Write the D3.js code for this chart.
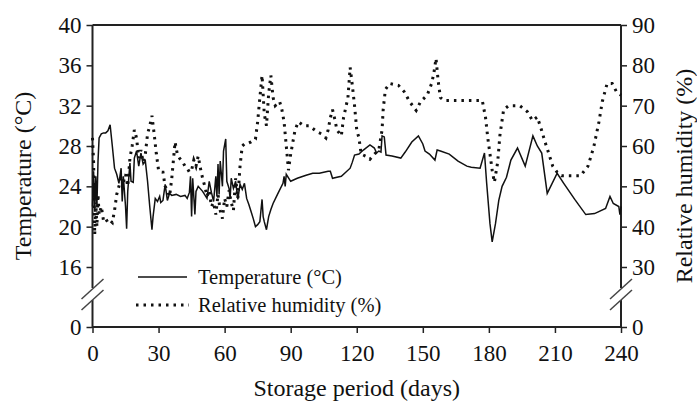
<!DOCTYPE html>
<html>
<head>
<meta charset="utf-8">
<script src="https://cdn.jsdelivr.net/npm/d3@7"></script>
<style>
  body { margin: 0; background: #fff; }
  svg text { font-family: "Liberation Serif", "Times New Roman", serif; fill: #111; }
</style>
</head>
<body>
<svg id="canvas" width="697" height="406"></svg>
<script>
// storage day and temperature (°C)
let tempDays = [0, 0.5, 1, 1.5, 2, 2.5, 3, 4, 5, 6, 7, 8, 9, 10, 11, 12, 13, 13.5, 14, 15, 15.5, 16, 17, 17.5, 18.5, 19, 20, 21, 22, 23, 24, 25, 26, 27, 27.5, 28.5, 29.5, 30.5, 31, 32, 33, 34, 35, 36, 38, 40, 42, 43, 44, 44.5, 45, 45.5, 46.5, 47, 48, 50, 52, 53, 54, 55, 56, 56.5, 57, 57.5, 58, 59, 59.5, 60.5, 61, 62, 62.5, 63, 64, 65, 66, 67, 68, 69, 70, 71, 72, 73, 74, 75, 76, 77, 77.5, 78, 79, 80, 81, 82, 84, 86.5, 87, 87.5, 88, 90, 93, 97, 100, 103, 105, 107, 108, 109, 111, 113, 115, 117, 118, 119, 121, 123, 126, 128, 129, 130, 131, 131.5, 132.5, 133.3, 136, 140, 142, 145, 148, 150, 151, 153, 155.5, 156.5, 158, 162, 166, 170, 172, 176, 178, 179, 180.5, 181.5, 183, 184.5, 186, 188, 190, 193, 196.5, 200, 202, 204, 206.5, 211, 214, 219, 224, 228, 233, 235, 236.5, 239, 239.5, 240]
let tempValues = [22, 25.5, 21.5, 25, 22, 26.5, 28.8, 29.2, 29.3, 29.3, 29.5, 30.1, 28, 25.8, 25.2, 24.3, 25.8, 22.5, 25, 22, 19.8, 23.5, 26.3, 24.5, 24.4, 26.8, 27.5, 26, 27.3, 26.2, 26.5, 24.5, 22, 19.7, 21, 22.8, 22.5, 23, 22.4, 22.6, 24.2, 22.6, 23.3, 23.1, 23.2, 23, 23.1, 22.8, 23.4, 25, 21, 24.8, 21.2, 23.5, 24, 23.5, 22.8, 24.5, 23.4, 22.5, 25, 23, 26.2, 23.2, 26.5, 24, 27.5, 28.7, 24.5, 23.8, 22.8, 24.8, 23.8, 24.5, 22.7, 24.2, 23.7, 24.3, 22.8, 22.2, 21.5, 20.8, 20, 20.2, 20.5, 22.7, 21, 20.5, 19.7, 21, 21.7, 22.3, 23.2, 24.3, 25, 24, 25.2, 24.5, 24.8, 25.1, 25.3, 25.3, 25.4, 25.5, 25.5, 24.8, 24.9, 25, 25.4, 25.8, 26.4, 27.1, 27.2, 27.6, 28.1, 27.8, 27.3, 27.5, 27.4, 29, 28.9, 27.1, 27, 26.8, 27.4, 28.4, 29, 28.2, 27.5, 27.2, 26.6, 27.6, 27.5, 27.2, 26.5, 26, 25.9, 25.8, 27.3, 24.3, 20.3, 18.5, 20.3, 22.6, 24, 24.9, 26.6, 27.8, 26, 29, 28, 27.3, 23.3, 25.3, 24.3, 22.7, 21.2, 21.3, 21.8, 23, 22.3, 22, 21.2, 22]

// storage day and relative humidity (%)
let rhDays = [0, 0.5, 1, 1.5, 2, 2.5, 3, 4, 5, 6, 7, 8, 9, 10, 11, 12, 13, 14, 15, 16, 17, 18, 19, 20, 21, 22, 23, 24, 25, 26, 27, 28, 29, 30, 31, 32, 33, 34, 35, 36, 37, 37.5, 38.5, 39.5, 41, 42, 43, 44, 45, 46, 47, 48, 49, 50, 51, 52, 53, 54, 55, 56, 57, 58, 59, 60, 61, 62, 63, 64, 65, 66, 67, 68, 69, 70, 72, 74, 75, 76, 77, 78, 79, 80, 81, 82, 83, 85, 86, 87, 88, 89, 90, 92, 93.5, 96, 98.5, 102, 104, 106, 107, 108, 109, 110, 111, 113, 114, 116, 117, 118, 119, 120, 121, 122, 124, 126, 128, 130, 131.5, 132, 133, 135, 139, 141.5, 144, 147, 149, 152, 154, 155, 156, 157, 158, 159.5, 163, 168, 173, 177, 178.5, 179.5, 180.5, 181.5, 182.5, 184, 185, 186.7, 189, 192, 194, 197.5, 199.8, 202, 204, 205.5, 207, 209, 211, 213, 217, 221.6, 225, 227.6, 230, 231.5, 233.7, 236, 238, 240]
let rhValues = [62, 56, 38, 46, 40, 48, 43, 45, 41.5, 42, 41, 41.5, 41, 44, 48, 50, 52, 51, 53, 50, 57, 60, 64, 62, 57, 59, 56, 58, 63, 65, 67.5, 63, 58, 54, 53.5, 53.5, 50, 49, 47.5, 52, 58, 61, 58, 57, 56, 55, 54.5, 53.5, 54, 56.5, 55, 57.5, 54.5, 52, 50, 47.5, 49, 45, 46, 43, 48, 44, 42, 47, 45, 49, 46, 44, 52, 47, 55, 60, 60.5, 60.5, 61, 61.7, 66, 72, 77.5, 68, 65, 73, 77.5, 72, 70, 71, 69, 66, 60, 54, 58, 64, 66, 65, 65, 63.5, 63, 62, 64, 67, 69, 66.7, 64, 62.5, 67, 72, 79.5, 75, 70, 64, 62, 58, 57.5, 56.7, 58, 59, 64, 69, 74, 75.5, 75, 73.5, 71, 68.8, 71, 72.6, 75.5, 78, 81.7, 76, 72, 71.3, 71.3, 71.3, 71.3, 71.3, 67, 62, 58, 54, 51, 56, 62.6, 69, 70, 70, 70, 68.5, 66.3, 67.2, 63.8, 61, 58.5, 55, 53.5, 52.6, 52.6, 52.6, 55, 59.7, 66, 71, 75.5, 75.5, 73.4, 72.6]

let xTicks = [0, 30, 60, 90, 120, 150, 180, 210, 240]
let tempTicks = [0, 16, 20, 24, 28, 32, 36, 40]
let rhTicks = [0, 30, 40, 50, 60, 70, 80, 90]

let svg = d3.select('#canvas')

let plotLeft = 92.5
let plotRight = 621
let plotTop = 25
let plotBottom = 327
let breakY = 267

let xScale = d3.scaleLinear().domain([0, 240]).range([plotLeft, plotRight])
// broken axes: the 0 level sits below a gap
let tempScale = d3.scaleLinear().domain([0, 16, 40]).range([plotBottom, breakY, plotTop])
let rhScale = d3.scaleLinear().domain([0, 30, 90]).range([plotBottom, breakY, plotTop])

let axisColor = '#222'

// top border
svg.append('line')
   .attr('x1', plotLeft).attr('x2', plotRight)
   .attr('y1', plotTop).attr('y2', plotTop)
   .attr('stroke', axisColor).attr('stroke-width', 2)

// x axis
let xAxis = svg.append('g')
   .attr('transform', 'translate(0,' + plotBottom + ')')
   .call(d3.axisBottom(xScale).tickValues(xTicks).tickSize(6).tickPadding(12))
xAxis.select('.domain').attr('stroke', axisColor).attr('stroke-width', 2)
   .attr('d', 'M' + plotLeft + ',0H' + plotRight)
xAxis.selectAll('.tick line').attr('stroke', axisColor).attr('stroke-width', 1.5)
xAxis.selectAll('.tick text').style('font-size', '23px')
   .style('font-family', '"Liberation Serif", serif').attr('fill', '#111')

let drawYAxis = (scale, ticks, x, axisFn) => {
    let g = svg.append('g')
       .attr('transform', 'translate(' + x + ',0)')
       .call(axisFn(scale).tickValues(ticks).tickSize(6).tickPadding(5))
    g.select('.domain').remove()
    g.selectAll('.tick line').attr('stroke', axisColor).attr('stroke-width', 1.5)
    g.selectAll('.tick text').style('font-size', '23px')
       .style('font-family', '"Liberation Serif", serif').attr('fill', '#111')
    // axis line with a gap for the break
    g.append('line').attr('x1', 0).attr('x2', 0)
       .attr('y1', plotTop).attr('y2', 288)
       .attr('stroke', axisColor).attr('stroke-width', 2)
    g.append('line').attr('x1', 0).attr('x2', 0)
       .attr('y1', 300).attr('y2', plotBottom + 1)
       .attr('stroke', axisColor).attr('stroke-width', 2)
    // the two break slashes
    ;[289, 300].forEach((cy) => {
        g.append('line')
           .attr('x1', -11).attr('y1', cy + 10)
           .attr('x2', 11).attr('y2', cy - 10)
           .attr('stroke', '#444').attr('stroke-width', 1.5)
    })
}

drawYAxis(tempScale, tempTicks, plotLeft, d3.axisLeft)
drawYAxis(rhScale, rhTicks, plotRight, d3.axisRight)

// axis titles
svg.append('text')
   .attr('transform', 'translate(31,' + (plotTop + plotBottom) / 2 + ') rotate(-90)')
   .attr('text-anchor', 'middle')
   .style('font-size', '24px')
   .text('Temperature (°C)')

svg.append('text')
   .attr('transform', 'translate(692,' + (plotTop + plotBottom) / 2 + ') rotate(-90)')
   .attr('text-anchor', 'middle')
   .style('font-size', '24px')
   .text('Relative humidity (%)')

svg.append('text')
   .attr('x', (plotLeft + plotRight) / 2)
   .attr('y', 396)
   .attr('text-anchor', 'middle')
   .style('font-size', '24px')
   .text('Storage period (days)')

// series
let tempData = tempDays.map((d, i) => [d, tempValues[i]])
let rhData = rhDays.map((d, i) => [d, rhValues[i]])

svg.append('path')
   .datum(rhData)
   .attr('d', d3.line().x((d) => xScale(d[0])).y((d) => rhScale(d[1])))
   .attr('fill', 'none')
   .attr('stroke', '#111')
   .attr('stroke-width', 3)
   .attr('stroke-dasharray', '2.5,5')

svg.append('path')
   .datum(tempData)
   .attr('d', d3.line().x((d) => xScale(d[0])).y((d) => tempScale(d[1])))
   .attr('fill', 'none')
   .attr('stroke', '#111')
   .attr('stroke-width', 1.5)

// legend
let legend = svg.append('g')
legend.append('line')
   .attr('x1', 138).attr('x2', 187).attr('y1', 277).attr('y2', 277)
   .attr('stroke', '#111').attr('stroke-width', 1.5)
legend.append('line')
   .attr('x1', 136).attr('x2', 189).attr('y1', 305).attr('y2', 305)
   .attr('stroke', '#111').attr('stroke-width', 3)
   .attr('stroke-dasharray', '2.5,5')
legend.append('text')
   .attr('x', 198).attr('y', 277).attr('dy', '0.32em')
   .style('font-size', '20.5px')
   .text('Temperature (°C)')
legend.append('text')
   .attr('x', 198).attr('y', 305).attr('dy', '0.32em')
   .style('font-size', '20.5px')
   .text('Relative humidity (%)')
</script>
</body>
</html>
